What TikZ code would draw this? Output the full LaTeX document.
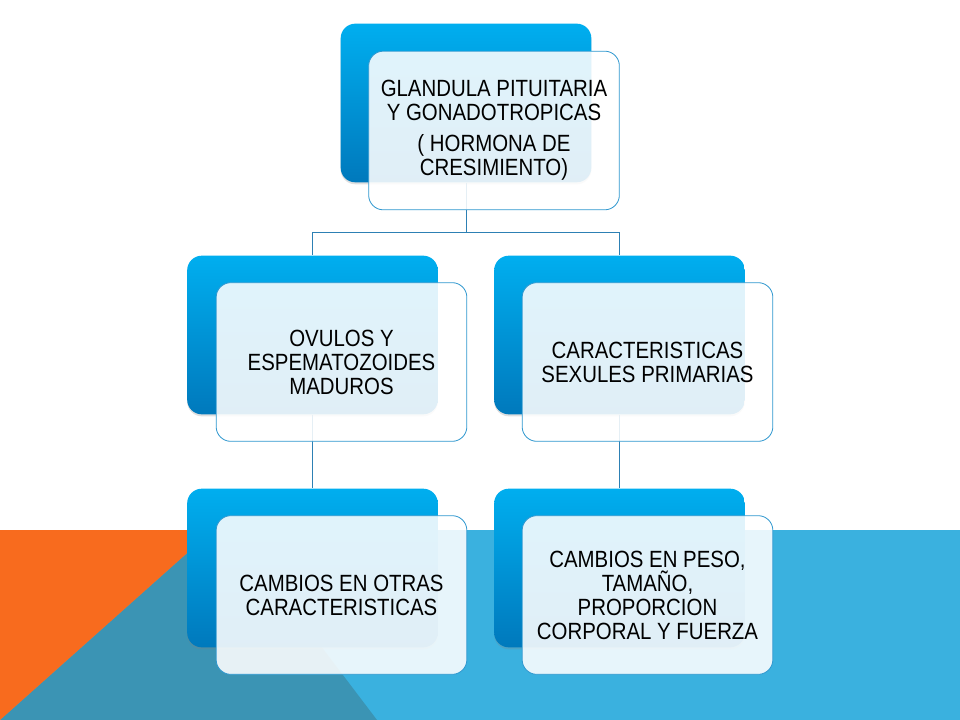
\documentclass[tikz,border=0pt]{standalone}
\usepackage{fontspec}
\setmainfont[FakeStretch=0.87]{Liberation Sans}
\usetikzlibrary{backgrounds,shadows}

\definecolor{slideorange}{HTML}{F86B1E}
\definecolor{slideteal}{HTML}{3B94B4}
\definecolor{slideblue}{HTML}{3AB1DF}
\definecolor{boxtop}{HTML}{00AEEF}
\definecolor{boxbottom}{HTML}{0079BC}
\definecolor{boxline}{HTML}{2E97CF}
\definecolor{linkline}{HTML}{2D80B4}

\begin{document}
\begin{tikzpicture}[x=0.75pt,y=-0.75pt]
    \tikzstyle{back box}=[rectangle, rounded corners=11pt, minimum width=188pt, minimum height=119pt,
        top color=boxtop, bottom color=boxbottom,
        drop shadow={shadow xshift=0pt, shadow yshift=-1.5pt, opacity=0.25}]
    \tikzstyle{front box}=[rectangle, rounded corners=11pt, minimum width=188pt, minimum height=119pt,
        draw=boxline, line width=0.6pt, fill=white, fill opacity=0.88, text opacity=1,
        align=center, font=\fontsize{17.6}{18}\selectfont]
    \tikzstyle{link}=[draw=linkline, line width=0.7pt]

    \useasboundingbox (0,0) rectangle (960,720);

    % back boxes
    \node[back box](b_top) at (466, 103) {};
    \node[back box](b_ovul) at (312.5, 335) {};
    \node[back box](b_prim) at (619.5, 335) {};
    \node[back box](b_otras) at (312.5, 568) {};
    \node[back box](b_peso) at (619.5, 568) {};

    % front boxes with the texts
    \node[front box](n_top) at (494, 130.5) {GLANDULA PITUITARIA\\Y GONADOTROPICAS\\[5pt]( HORMONA DE\\CRESIMIENTO)};
    \node[front box](n_ovul) at (341.5, 362) {OVULOS Y\\ESPEMATOZOIDES\\MADUROS};
    \node[front box](n_prim) at (647.5, 362) {CARACTERISTICAS\\SEXULES PRIMARIAS};
    \node[front box](n_otras) at (341.5, 595) {CAMBIOS EN OTRAS\\CARACTERISTICAS};
    \node[front box](n_peso) at (647.5, 595) {CAMBIOS EN PESO,\\TAMAÑO,\\PROPORCION\\CORPORAL Y FUERZA};

    \begin{scope}[on background layer]
        % slide decoration
        \fill[slideblue] (0,530) rectangle (960,720);
        \fill[slideteal] (0,720) -- (213,530) -- (233,530) -- (377,720) -- cycle;
        \fill[slideorange] (0,530) -- (213,530) -- (0,720) -- cycle;

        % connectors
        \coordinate(fork) at (466, 232);
        \draw[link] (b_top) -- (fork);
        \draw[link] (fork) -| (b_ovul);
        \draw[link] (fork) -| (b_prim);
        \draw[link] (b_ovul) -- (b_otras);
        \draw[link] (b_prim) -- (b_peso);
    \end{scope}
\end{tikzpicture}
\end{document}
